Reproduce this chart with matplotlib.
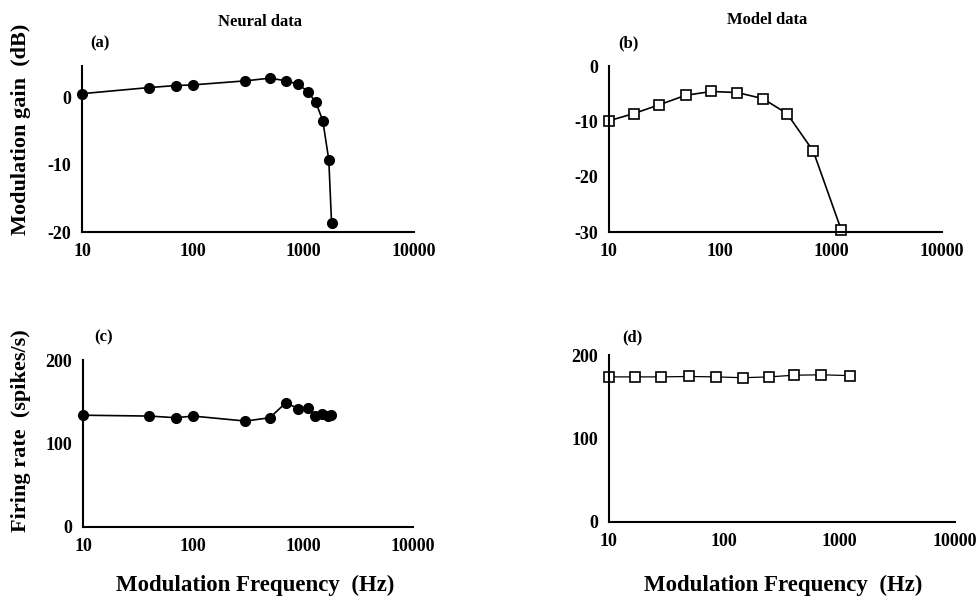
import matplotlib.pyplot as plt
import numpy as np

# neural data (panels a, c)
neural_freq = [10, 40, 70, 100, 300, 500, 700, 900, 1100, 1300, 1500, 1700, 1800]
neural_gain = [0.5, 1.4, 1.7, 1.8, 2.4, 2.8, 2.4, 1.9, 0.8, -0.8, -3.5, -9.3, -18.6]
neural_rate = [134, 133, 131, 133, 127, 131, 149, 142, 143, 133, 135, 133, 134]

# model data (panels b, d)
model_freq = [10, 16.7, 28.5, 49, 84, 144, 244, 403, 695, 1240]
model_gain = [-9.9, -8.6, -7.0, -5.3, -4.6, -4.8, -5.9, -8.6, -15.4, -29.6]
model_rate = [174, 174, 174, 174.5, 174, 173, 174, 176, 176.5, 175.5]

xticks = [10, 100, 1000, 10000]
xticklabels = ["10", "100", "1000", "10000"]

plt.rcParams['font.family'] = ['Liberation Serif', 'DejaVu Serif']
plt.rcParams['font.weight'] = 'bold'
plt.rcParams['axes.unicode_minus'] = False

fig = plt.figure(figsize=(9.79, 6), dpi=100)

ax_a = fig.add_axes([0.0838, 0.6133, 0.339, 0.2767])
ax_b = fig.add_axes([0.622, 0.6133, 0.340, 0.2767])
ax_c = fig.add_axes([0.0848, 0.1217, 0.337, 0.278])
ax_d = fig.add_axes([0.622, 0.13, 0.3534, 0.278])


def style(ax, ylim, yticks):
    ax.set_xscale('log')
    ax.set_xlim(10, 10000)
    ax.set_ylim(*ylim)
    ax.set_xticks(xticks)
    ax.set_xticklabels(xticklabels)
    ax.minorticks_off()
    ax.set_yticks(yticks)
    ax.spines['top'].set_visible(False)
    ax.spines['right'].set_visible(False)
    for s in ('left', 'bottom'):
        ax.spines[s].set_linewidth(1.5)
    ax.tick_params(axis='both', length=0, labelsize=13, pad=8)
    for lab in ax.get_xticklabels() + ax.get_yticklabels():
        lab.set_fontweight('bold')


ax_a.plot(neural_freq, neural_gain, '-o', color='black', lw=1.2, ms=7, clip_on=False)
style(ax_a, (-20, 4.6), [-20, -10, 0])

ax_b.plot(model_freq, model_gain, '-s', color='black', mfc='white', mec='black',
          mew=1.2, lw=1.2, ms=7.5, clip_on=False)
style(ax_b, (-30, 0), [-30, -20, -10, 0])

ax_c.plot(neural_freq, neural_rate, '-o', color='black', lw=1.2, ms=7, clip_on=False)
style(ax_c, (0, 200), [0, 100, 200])

ax_d.plot(model_freq, model_rate, '-s', color='black', mfc='white', mec='black',
          mew=1.2, lw=0.9, ms=6.5, clip_on=False)
style(ax_d, (0, 200), [0, 100, 200])

# titles and panel labels
fig.text(0.266, 0.963, "Neural data", ha='center', va='center', fontsize=12, fontweight='bold')
fig.text(0.784, 0.966, "Model data", ha='center', va='center', fontsize=12, fontweight='bold')
fig.text(0.102, 0.928, "(a)", ha='center', va='center', fontsize=12, fontweight='bold')
fig.text(0.642, 0.928, "(b)", ha='center', va='center', fontsize=12, fontweight='bold')
fig.text(0.106, 0.437, "(c)", ha='center', va='center', fontsize=12, fontweight='bold')
fig.text(0.646, 0.438, "(d)", ha='center', va='center', fontsize=12, fontweight='bold')

fig.text(0.021, 0.785, "Modulation gain  (dB)", rotation=90, ha='center', va='center',
         fontsize=16, fontweight='bold')
fig.text(0.021, 0.283, "Firing rate  (spikes/s)", rotation=90, ha='center', va='center',
         fontsize=16, fontweight='bold')
fig.text(0.261, 0.025, "Modulation Frequency  (Hz)", ha='center', va='center',
         fontsize=16.5, fontweight='bold')
fig.text(0.8, 0.025, "Modulation Frequency  (Hz)", ha='center', va='center',
         fontsize=16.5, fontweight='bold')

fig.savefig("out.png", dpi=100)
